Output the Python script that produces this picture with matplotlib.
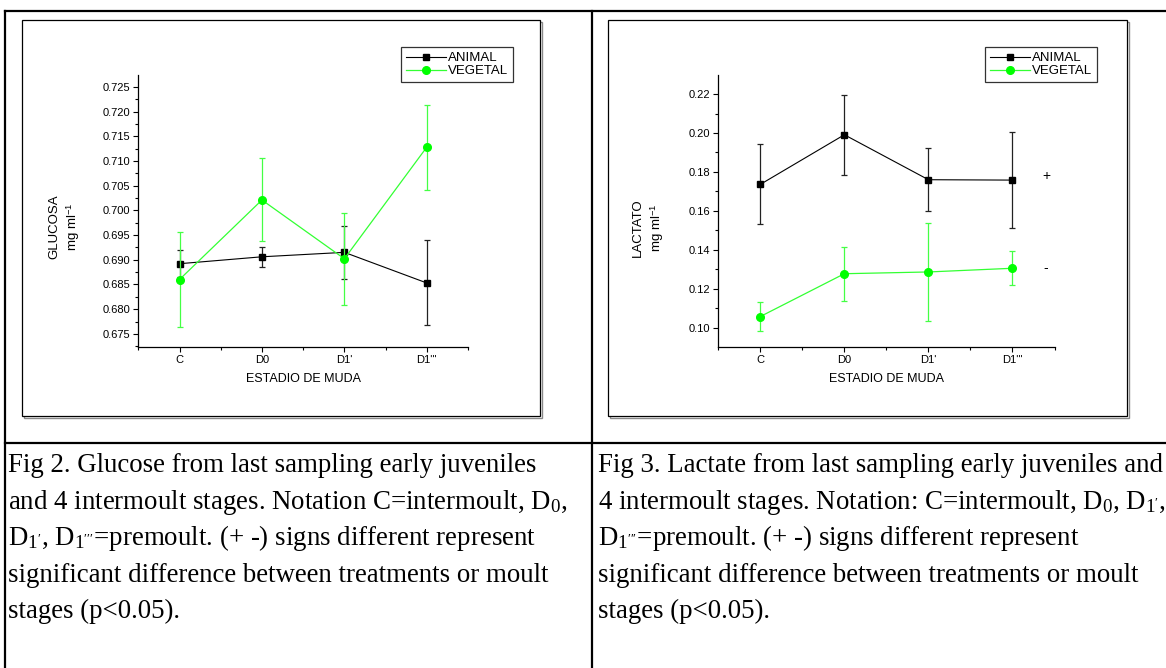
import matplotlib
matplotlib.use("Agg")
import matplotlib.pyplot as plt
from matplotlib.ticker import MultipleLocator, FormatStrFormatter
from matplotlib.lines import Line2D
from matplotlib.patches import Rectangle

# ---------------- data ----------------
stages = ["C", "D0", "D1'", "D1'''"]

glu_animal = [0.6892, 0.6906, 0.6915, 0.6853]
glu_animal_err = [0.0027, 0.0020, 0.0053, 0.0086]
glu_vegetal = [0.6860, 0.7021, 0.6902, 0.7128]
glu_vegetal_err = [0.0097, 0.0084, 0.0093, 0.0086]

lac_animal = [0.1736, 0.1991, 0.1760, 0.1758]
lac_animal_err = [0.0205, 0.0206, 0.0163, 0.0248]
lac_vegetal = [0.1057, 0.1277, 0.1286, 0.1305]
lac_vegetal_err = [0.0074, 0.0139, 0.0252, 0.0087]

series_names = ["ANIMAL", "VEGETAL"]
sig_marks = ["+", "-"]

caption_left = [
    "Fig 2. Glucose from last sampling early juveniles",
    "and 4 intermoult stages. Notation C=intermoult, D$_0$,",
    "D$_{1'}$, D$_{1'''}$=premoult. (+ -) signs different represent",
    "significant difference between treatments or moult",
    "stages (p<0.05).",
]
caption_right = [
    "Fig 3. Lactate from last sampling early juveniles and",
    "4 intermoult stages. Notation: C=intermoult, D$_0$, D$_{1'}$,",
    "D$_{1'''}$=premoult. (+ -) signs different represent",
    "significant difference between treatments or moult",
    "stages (p<0.05).",
]

# ---------------- style ----------------
plt.rcParams["font.family"] = ["Liberation Sans", "DejaVu Sans"]
plt.rcParams["mathtext.fontset"] = "custom"
plt.rcParams["mathtext.rm"] = "Liberation Serif"
plt.rcParams["mathtext.it"] = "Liberation Serif:italic"
plt.rcParams["mathtext.sf"] = "Liberation Sans"

W, H = 1166, 668
fig = plt.figure(figsize=(W / 100, H / 100), dpi=100)
fig.patch.set_facecolor("white")


def fx(x):
    return x / W


def fy(y):
    return 1 - y / H


def axes_rect(x0, y0, x1, y1):
    return [fx(x0), fy(y1), fx(x1) - fx(x0), fy(y0) - fy(y1)]


GREEN = "#00ff00"
GREEN_LINE = "#33ff33"
GREEN_ERR = "#44ff44"

# ---------------- table lines ----------------
tbl_lw = 1.6
for (xa, ya, xb, yb) in [(5, 11, W, 11), (5, 11, 5, H), (592, 11, 592, H), (5, 443, W, 443)]:
    fig.add_artist(Line2D([fx(xa), fx(xb)], [fy(ya), fy(yb)], color="black",
                          lw=tbl_lw, transform=fig.transFigure, zorder=-5))

# inner chart frames with shadow
for (x0, y0, x1, y1) in [(22, 20, 540, 416), (608, 20, 1127, 416)]:
    shadow = Rectangle((fx(x0 + 2), fy(y1 + 2)), fx(x1) - fx(x0), fy(y0) - fy(y1),
                       transform=fig.transFigure, fill=False, edgecolor="#8a8a8a", lw=1.0,
                       zorder=-4)
    fig.add_artist(shadow)
    frame = Rectangle((fx(x0), fy(y1)), fx(x1) - fx(x0), fy(y0) - fy(y1),
                      transform=fig.transFigure, facecolor="white", edgecolor="black", lw=0.9,
                      zorder=-3)
    fig.add_artist(frame)


def style_axes(ax, ylim, major, minor, fmt):
    ax.set_xlim(0.5, 4.5)
    ax.set_ylim(*ylim)
    for s in ["top", "right"]:
        ax.spines[s].set_visible(False)
    for s in ["left", "bottom"]:
        ax.spines[s].set_linewidth(0.9)
    ax.set_facecolor("none")
    ax.set_xticks(range(1, len(stages) + 1))
    ax.set_xticklabels(stages)
    ax.xaxis.set_minor_locator(MultipleLocator(0.5))
    ax.yaxis.set_major_locator(MultipleLocator(major))
    ax.yaxis.set_minor_locator(MultipleLocator(minor))
    ax.yaxis.set_major_formatter(FormatStrFormatter(fmt))
    ax.tick_params(axis="both", which="major", direction="out", length=3.5, width=0.8,
                   labelsize=8, pad=2.5)
    ax.tick_params(axis="both", which="minor", direction="out", length=2.2, width=0.8)
    ax.set_xlabel("ESTADIO DE MUDA", fontsize=9, labelpad=6)


def draw_series(ax, xs, a, ae, v, ve):
    ea = ax.errorbar(xs, a, yerr=ae, color="black", ecolor="#222222", lw=0.8, elinewidth=0.9,
                     capsize=2.5, capthick=0.9, marker="s", markersize=4.8, mfc="black",
                     mec="black", label=series_names[0], zorder=3)
    ev = ax.errorbar(xs, v, yerr=ve, color=GREEN_LINE, ecolor=GREEN_ERR, lw=0.9,
                     elinewidth=0.9, capsize=2.5, capthick=0.9, marker="o", markersize=5.5,
                     mfc=GREEN, mec=GREEN, label=series_names[1], zorder=4)
    return [ea[0], ev[0]]


def add_legend(ax, handles, x0, y0):
    leg = ax.legend(handles=handles, labels=series_names, loc="upper left",
                    bbox_to_anchor=(fx(x0), fy(y0)),
                    bbox_transform=fig.transFigure, fontsize=9.5, frameon=True,
                    fancybox=False, edgecolor="black", borderpad=0.38,
                    handlelength=3.0, handletextpad=0.15, labelspacing=0.05,
                    borderaxespad=0)
    leg.get_frame().set_linewidth(0.9)
    return leg


xs = list(range(1, len(stages) + 1))

# ---------------- left chart (glucose) ----------------
ax1 = fig.add_axes(axes_rect(138.3, 75, 468, 346.7))
h1 = draw_series(ax1, xs, glu_animal, glu_animal_err, glu_vegetal, glu_vegetal_err)
style_axes(ax1, (0.6724, 0.7274), 0.005, 0.0025, "%.3f")
add_legend(ax1, h1, 401, 47)
fig.text(fx(65), fy(227), "GLUCOSA\nmg ml$^{\\mathsf{-1}}$", rotation=90, ha="center",
         va="center", multialignment="center", fontsize=9.5, linespacing=1.35)

# ---------------- right chart (lactate) ----------------
ax2 = fig.add_axes(axes_rect(718.3, 75, 1054.5, 346.7))
h2 = draw_series(ax2, xs, lac_animal, lac_animal_err, lac_vegetal, lac_vegetal_err)
style_axes(ax2, (0.0902, 0.2298), 0.02, 0.01, "%.2f")
add_legend(ax2, h2, 985, 47)
fig.text(fx(649), fy(228), "LACTATO\nmg ml$^{\\mathsf{-1}}$", rotation=90, ha="center",
         va="center", multialignment="center", fontsize=9.5, linespacing=1.35)
ax2.text(4.4, lac_animal[-1] + 0.002, sig_marks[0], ha="center", va="center", fontsize=10,
         clip_on=False)
ax2.text(4.4, lac_vegetal[-1], sig_marks[1], ha="center", va="center", fontsize=10,
         clip_on=False)

# ---------------- captions ----------------
base0 = 472
step = 36.6
for i, line in enumerate(caption_left):
    fig.text(fx(8), fy(base0 + i * step), line, ha="left", va="baseline",
             fontsize=19.4, family=["Liberation Serif", "DejaVu Serif"])
for i, line in enumerate(caption_right):
    fig.text(fx(598), fy(base0 + i * step), line, ha="left", va="baseline",
             fontsize=19.4, family=["Liberation Serif", "DejaVu Serif"])

fig.savefig("out.png", dpi=100, facecolor="white")
